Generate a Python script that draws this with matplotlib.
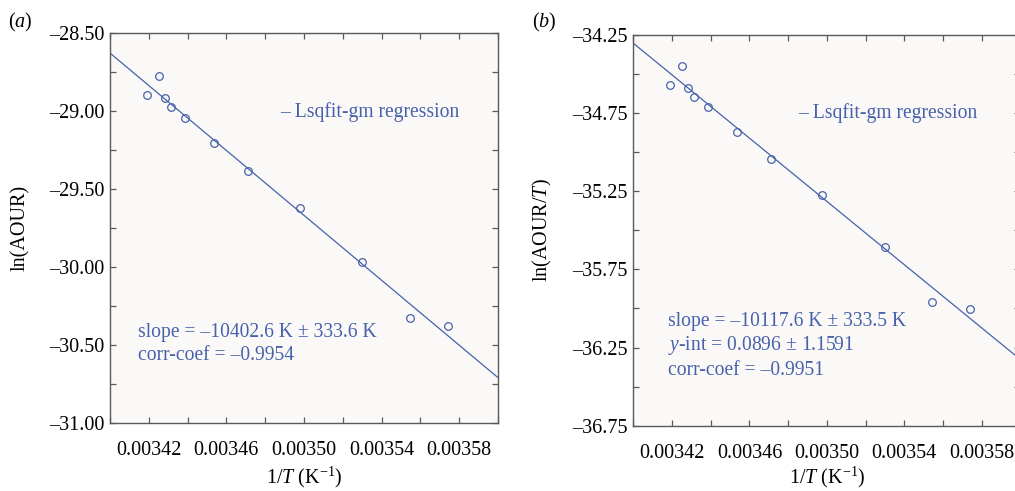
import numpy as np
import matplotlib
matplotlib.use("Agg")
import matplotlib.pyplot as plt
from matplotlib.ticker import MultipleLocator

plt.rcParams['font.family'] = ['Liberation Serif', 'DejaVu Serif']
plt.rcParams['mathtext.fontset'] = 'custom'
plt.rcParams['mathtext.rm'] = 'Liberation Serif'
plt.rcParams['mathtext.it'] = 'Liberation Serif:italic'
plt.rcParams['mathtext.default'] = 'regular'

# data
inv_T = [0.0034190, 0.0034250, 0.0034284, 0.0034315, 0.0034385, 0.0034536,
         0.0034710, 0.0034977, 0.0035298, 0.0035544, 0.0035741]
ln_aour = [-28.895, -28.773, -28.914, -28.976, -29.043, -29.208,
           -29.384, -29.624, -29.965, -30.328, -30.379]
ln_aour_T = [-34.570, -34.448, -34.589, -34.649, -34.713, -34.871,
             -35.044, -35.276, -35.605, -35.959, -36.006]

# regression lines: slope and value at x = 0.00340
fit_a = (-10402.6, -28.629)
fit_b = (-10117.6, -34.303)

xtick_vals = [0.00342, 0.00346, 0.00350, 0.00354, 0.00358]
xtick_labels = ['0.00342', '0.00346', '0.00350', '0.00354', '0.00358']
yticks_a = [-28.5, -29.0, -29.5, -30.0, -30.5, -31.0]
yticks_b = [-34.25, -34.75, -35.25, -35.75, -36.25, -36.75]

stats_a = ['slope = –10402.6 K ± 333.6 K', 'corr-coef = –0.9954']
stats_b = ['slope = –10117.6 K ± 333.5 K', r'$\mathit{y}$-int = 0.0896 ± 1.1591',
           'corr-coef = –0.9951']

blue = '#4761ab'
fs = 14.5
fs_txt = 14.1

fig = plt.figure(figsize=(10.15, 4.91), dpi=100)
ax1 = fig.add_axes([0.1084, 0.1385, 0.3823, 0.7943])
ax2 = fig.add_axes([0.6240, 0.1330, 0.3813, 0.7957])


def setup(ax, yt, fit, yvals, ylabel, lab_y):
    ax.set_facecolor('#fbf9f7')
    x0 = 0.00340
    xl = np.array([0.00340, 0.00360])
    ax.plot(xl, fit[1] + fit[0] * (xl - x0), color=blue, lw=0.9)
    ax.plot(inv_T, yvals, 'o', mfc='none', mec=blue, ms=5.5, mew=0.9)
    ax.set_xlim(0.00340, 0.00360)
    ax.set_ylim(yt[-1], yt[0])
    ax.set_xticks(xtick_vals)
    ax.set_xticklabels(xtick_labels)
    ax.xaxis.set_minor_locator(MultipleLocator(0.00002))
    ax.set_yticks(yt)
    ax.set_yticklabels([('%.2f' % v).replace('-', '–') for v in yt])
    ax.yaxis.set_minor_locator(MultipleLocator(0.25))
    for s in ax.spines.values():
        s.set_color('#5a5a5a')
        s.set_linewidth(1.0)
    ax.tick_params(which='both', direction='in', top=True, right=True,
                   length=4, width=0.9, color='#5a5a5a', labelsize=fs)
    ax.tick_params(axis='x', pad=13)
    ax.tick_params(axis='y', pad=4)
    ax.set_xlabel(r'1/$\mathit{T}$ (K$^{-1}$)', fontsize=fs)
    ax.xaxis.set_label_coords(0.5, lab_y)
    ax.set_ylabel(ylabel, fontsize=fs)
    ax.yaxis.set_label_coords(-0.205, 0.5)


setup(ax1, yticks_a, fit_a, ln_aour, 'ln(AOUR)', -0.108)
setup(ax2, yticks_b, fit_b, ln_aour_T, r'ln(AOUR/$\mathit{T}$)', -0.100)

ax1.text(0.438, 0.797, '– Lsqfit-gm regression', transform=ax1.transAxes,
         color=blue, fontsize=fs_txt, va='center')
ax2.text(0.4256, 0.800, '– Lsqfit-gm regression', transform=ax2.transAxes,
         color=blue, fontsize=fs_txt, va='center')

for t, yy in zip(stats_a, [0.231, 0.172]):
    ax1.text(0.072, yy, t, transform=ax1.transAxes, color=blue, fontsize=fs_txt, va='center')
for t, yy in zip(stats_b, [0.266, 0.204, 0.142]):
    ax2.text(0.0897, yy, t, transform=ax2.transAxes, color=blue, fontsize=fs_txt, va='center')

fig.text(0.008, 1 - 22 / 491, r'($\mathit{a}$)', fontsize=fs, va='center', ha='left')
fig.text(0.524, 1 - 22 / 491, r'($\mathit{b}$)', fontsize=fs, va='center', ha='left')

fig.savefig('out.png', dpi=100)
